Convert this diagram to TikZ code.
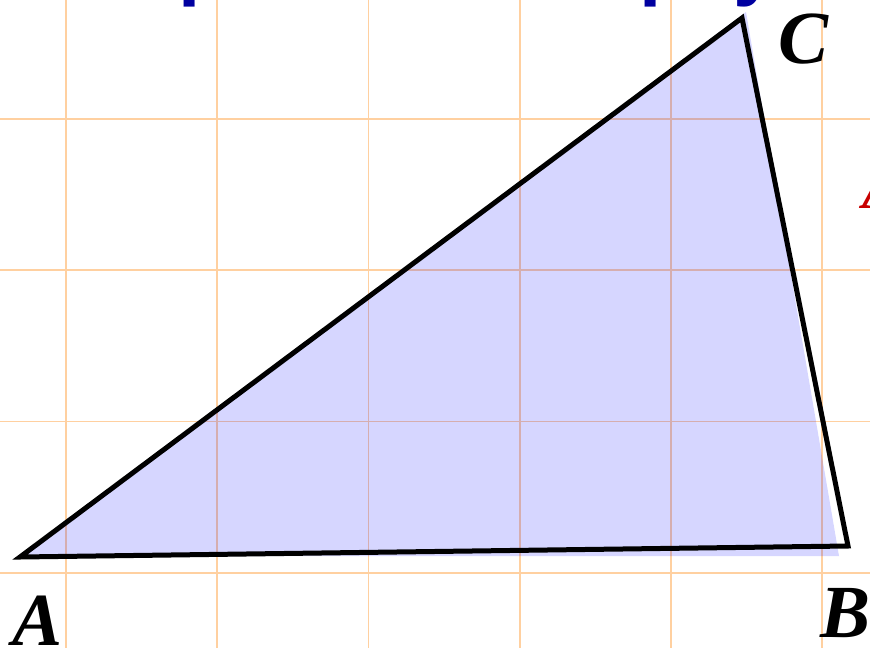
\documentclass[tikz,border=0pt]{standalone}
\usepackage{fontspec}
\setmainfont{Liberation Serif}
\newfontfamily\titlefont{Liberation Sans}
\definecolor{gridorange}{RGB}{255,208,160}
\definecolor{titleblue}{RGB}{0,0,160}
\definecolor{notered}{RGB}{200,0,0}
\begin{document}
\begin{tikzpicture}[x=1pt,y=-1pt,
  gridline/.style={draw=gridorange, line width=1.8pt},
  edgeline/.style={draw=black, line width=5pt, line join=miter},
  vlabel/.style={font=\fontsize{75}{80}\selectfont\bfseries\itshape, inner sep=0pt, anchor=base west},
  titletext/.style={font=\titlefont\fontsize{80}{90}\selectfont\bfseries, text=titleblue, inner sep=0pt, anchor=base west},
  redtext/.style={font=\fontsize{60}{70}\selectfont\bfseries\itshape, text=notered, inner sep=0pt, anchor=base west}]
\useasboundingbox (0,0) rectangle (870,648);
\clip (0,0) rectangle (870,648);
% grid
\foreach \x in {66,217.2,368.4,519.6,670.8,822}
  \draw[gridline] (\x,0) -- (\x,648);
\foreach \y in {119.1,270.3,421.5,572.7}
  \draw[gridline] (0,\y) -- (870,\y);
% shaded triangle
\fill[blue, fill opacity=0.16] (22,556) -- (839,556) -- (746,12) -- cycle;
% vertices
\coordinate (A) at (20,557);
\coordinate (B) at (848,546);
\coordinate (C) at (742,18);
\draw[edgeline] (A) -- (B) -- (C) -- cycle;
% labels
\node[vlabel] (la) at (12,645) {A};
\node[vlabel] (lb) at (820,637) {B};
\node[vlabel] (lc) at (778,63) {C};
% cut-off texts
\node[titletext] (t1) at (178,-10) {p};
\node[titletext] (t2) at (639,-10) {p};
\node[titletext] (t3) at (733,-10) {y};
\node[redtext] (r1) at (862,208) {A};
\end{tikzpicture}
\end{document}
